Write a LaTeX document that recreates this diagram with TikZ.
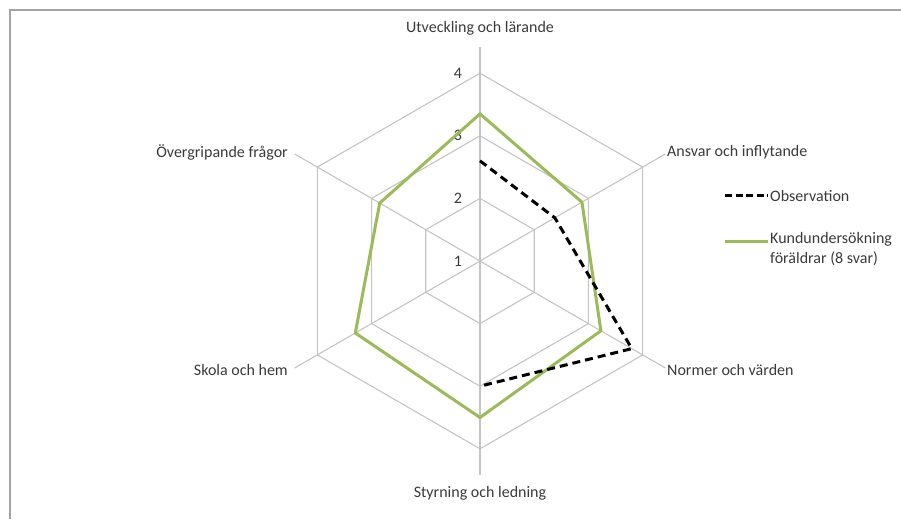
\documentclass[tikz,border=0pt]{standalone}
\usepackage{fontspec}
\setmainfont{Carlito}
\usepackage{xcolor}
\usetikzlibrary{calc}
\definecolor{gridGray}{HTML}{C4C4C4}
\definecolor{frameGray}{HTML}{A3A3A3}
\definecolor{kundGreen}{HTML}{9BBB59}
\definecolor{labelGray}{HTML}{3A3A3A}
\newcommand{\unitR}{62.6}

\begin{document}
\begin{tikzpicture}[x=1pt,y=1pt,
    every node/.style={font=\fontsize{16}{20}\selectfont,text=labelGray,inner sep=0pt},
    gridLine/.style={draw=gridGray,line width=1.1pt},
    kundLine/.style={draw=kundGreen,line width=3pt,line join=miter},
    obsLine/.style={draw=black,line width=3pt,dash pattern=on 8pt off 5pt}]

            \useasboundingbox (0,0) rectangle (901,519);

            % frame (only top and left edge are inside the picture)
            \draw[frameGray,line width=2.5pt] (10,0) -- (10,509) -- (901,509);

            % Define the centre of the chart as a coordinate
            \coordinate (c) at (480,258);

            % hexagons for 2, 3 and 4
            \foreach \r in {1,2,3}
                \draw[gridLine] ($(c)+(90:\r*\unitR)$) -- ++(-30:\r*\unitR) -- ++(-90:\r*\unitR)
                    -- ++(-150:\r*\unitR) -- ++(150:\r*\unitR) -- ++(90:\r*\unitR) -- cycle;

            % spokes
            \foreach \a in {90,30,-30,-90,-150,150}
                \draw[gridLine] (c) -- ++(\a:214);

            % scale
            \foreach \v [count=\i from 0] in {1,2,3,4}
                \node (s\v) at ($(c)+(-22,\i*\unitR)$) {\v};

            % axis labels
            \node (aUtv) at (480,491) {Utveckling och lärande};
            \node[anchor=west] (aAns) at (667,367) {Ansvar och inflytande};
            \node[anchor=west] (aNor) at (667,149) {Normer och värden};
            \node (aSty) at (480,26) {Styrning och ledning};
            \node[anchor=east] (aSko) at (288,149) {Skola och hem};
            \node[anchor=east] (aOve) at (288,367) {Övergripande frågor};

            % data points
            \foreach \a/\v [count=\i] in {90/3.35,30/2.88,-30/3.23,-90/3.5,-150/3.3,150/2.85}
                \coordinate (k\i) at ($(c)+(\a:{(\v-1)*\unitR})$);
            \foreach \a/\v [count=\i] in {90/2.6,30/2.38,-30/3.8,-90/3.0}
                \coordinate (o\i) at ($(c)+(\a:{(\v-1)*\unitR})$);

            \draw[kundLine] (k1)--(k2)--(k3)--(k4)--(k5)--(k6)--cycle;
            \draw[obsLine] (o1)--(o2)--(o3)--(o4);

            % legend
            \coordinate (lObsA) at (725,323);
            \coordinate (lObsB) at (768,323);
            \coordinate (lKunA) at (725,277);
            \coordinate (lKunB) at (768,277);
            \draw[obsLine,dash pattern=on 7pt off 3.5pt] (lObsA)--(lObsB);
            \draw[kundLine] (lKunA)--(lKunB);
            \node[anchor=west] (lObs) at ($(lObsB)+(2,0)$) {Observation};
            \node[anchor=north west,align=left] (lKun) at ($(lKunB)+(2,10)$) {Kundundersökning\\föräldrar (8 svar)};

            \end{tikzpicture}
\end{document}
